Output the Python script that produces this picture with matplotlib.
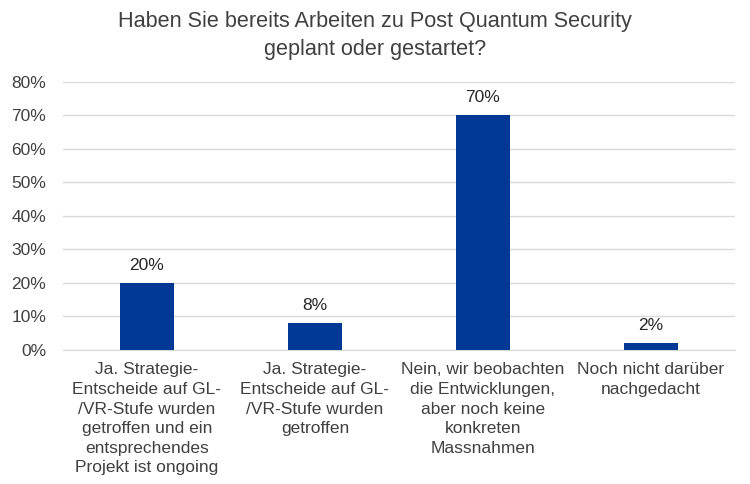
import numpy as np
import matplotlib.pyplot as plt

plt.rcParams['font.family'] = ['Liberation Sans', 'DejaVu Sans']

# Data
categories = [
    "Ja. Strategie-\nEntscheide auf GL-\n/VR-Stufe wurden\ngetroffen und ein\nentsprechendes\nProjekt ist ongoing",
    "Ja. Strategie-\nEntscheide auf GL-\n/VR-Stufe wurden\ngetroffen",
    "Nein, wir beobachten\ndie Entwicklungen,\naber noch keine\nkonkreten\nMassnahmen",
    "Noch nicht darüber\nnachgedacht",
]
values = [20, 8, 70, 2]
value_labels = ["20%", "8%", "70%", "2%"]
yticks = [0, 10, 20, 30, 40, 50, 60, 70, 80]

fig = plt.figure(figsize=(7.5, 4.84), dpi=100)
ax = fig.add_axes([0.084, 0.277, 0.896, 0.554])

x = np.arange(len(categories))
ax.bar(x, values, width=0.32, color='#003896', zorder=3)

for xi, v, lab in zip(x, values, value_labels):
    ax.text(xi, v + 3, lab, ha='center', va='bottom', fontsize=12.5, color='#262626')

ax.set_xlim(-0.5, len(categories) - 0.5)
ax.set_ylim(0, 80)
ax.set_yticks(yticks)
ax.set_yticklabels([f"{t}%" for t in yticks], fontsize=12.5, color='#404040')
ax.yaxis.grid(True, color='#d9d9d9', linewidth=1, zorder=0)
ax.tick_params(axis='both', length=0)
ax.tick_params(axis='y', pad=12)

ax.set_xticks(x)
ax.set_xticklabels(categories, fontsize=12.5, color='#404040', linespacing=1.38, va='top')
ax.tick_params(axis='x', pad=9)

for s in ['top', 'right', 'left']:
    ax.spines[s].set_visible(False)
ax.spines['bottom'].set_color('#d9d9d9')

fig.suptitle("Haben Sie bereits Arbeiten zu Post Quantum Security\ngeplant oder gestartet?",
             x=0.5, y=0.978, fontsize=15.6, color='#404040', linespacing=1.45, va='top')

fig.savefig('out.png', dpi=100)
